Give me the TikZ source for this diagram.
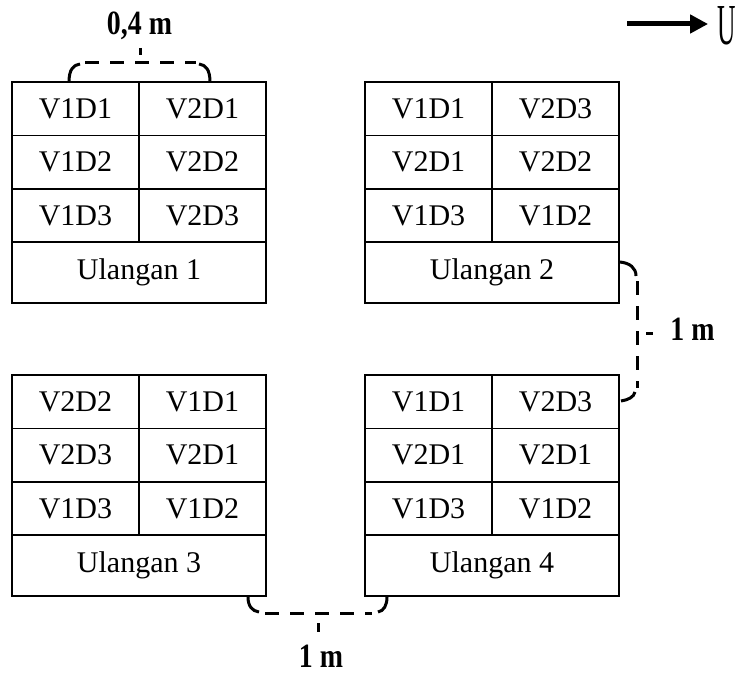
\documentclass[tikz,border=0pt]{standalone}
\usepackage{fontspec}
\setmainfont{Liberation Serif}
\usetikzlibrary{positioning,arrows.meta}

\begin{document}
\begin{tikzpicture}[x=1pt, y=-1pt,
  cell/.style={draw, line width=1.6pt, outer sep=0pt, inner sep=0pt,
               minimum width=127pt, minimum height=53.4pt,
               font=\fontsize{30}{36}\selectfont},
  ulang/.style={cell, minimum width=254pt, minimum height=60.5pt},
  lbl/.style={anchor=base, inner sep=0pt, font=\fontsize{34}{40}\selectfont\bfseries},
  curl/.style={line width=3pt},
  dsh/.style={line width=3pt, dash pattern=on 14pt off 11pt},
  arr/.style={-{Triangle[length=18pt, width=18pt]}, line width=5pt}]
\useasboundingbox (0,0) rectangle (741,674);

% Ulangan 1
\node[cell, anchor=north west] (a11) at (12,82) {V1D1};
\node[cell, right=0pt of a11] (a12) {V2D1};
\node[cell, below=0pt of a11] (a21) {V1D2};
\node[cell, right=0pt of a21] (a22) {V2D2};
\node[cell, below=0pt of a21] (a31) {V1D3};
\node[cell, right=0pt of a31] (a32) {V2D3};
\node[ulang, below=0pt of a31.south east] (u1) {Ulangan 1};

% Ulangan 2
\node[cell, anchor=north west] (b11) at (365,82) {V1D1};
\node[cell, right=0pt of b11] (b12) {V2D3};
\node[cell, below=0pt of b11] (b21) {V2D1};
\node[cell, right=0pt of b21] (b22) {V2D2};
\node[cell, below=0pt of b21] (b31) {V1D3};
\node[cell, right=0pt of b31] (b32) {V1D2};
\node[ulang, below=0pt of b31.south east] (u2) {Ulangan 2};

% Ulangan 3
\node[cell, anchor=north west] (c11) at (12,375) {V2D2};
\node[cell, right=0pt of c11] (c12) {V1D1};
\node[cell, below=0pt of c11] (c21) {V2D3};
\node[cell, right=0pt of c21] (c22) {V2D1};
\node[cell, below=0pt of c21] (c31) {V1D3};
\node[cell, right=0pt of c31] (c32) {V1D2};
\node[ulang, below=0pt of c31.south east] (u3) {Ulangan 3};

% Ulangan 4
\node[cell, anchor=north west] (d11) at (365,375) {V1D1};
\node[cell, right=0pt of d11] (d12) {V2D3};
\node[cell, below=0pt of d11] (d21) {V2D1};
\node[cell, right=0pt of d21] (d22) {V2D1};
\node[cell, below=0pt of d21] (d31) {V1D3};
\node[cell, right=0pt of d31] (d32) {V1D2};
\node[ulang, below=0pt of d31.south east] (u4) {Ulangan 4};

% jarak 0,4 m
\node[lbl] (jarak1) at (139.5,35) {\scalebox{0.82}[1]{0,4 m}};
\coordinate (t1) at (69,82);   \coordinate (t2) at (80,64);
\coordinate (t3) at (199,64);  \coordinate (t4) at (210,82);
\draw[curl] (t1) .. controls (69,70) and (73,65) .. (t2);
\draw[dsh] (85,63) -- (196,63);
\draw[curl] (t3) .. controls (206,65) and (210,70) .. (t4);
\draw[curl] (140,48) -- (140,55);

% jarak 1 m (kanan)
\node[lbl] (jarak2) at (692.5,340) {\scalebox{0.82}[1]{1 m}};
\coordinate (r1) at (620,262); \coordinate (r2) at (636,276);
\coordinate (r3) at (635,392); \coordinate (r4) at (621,401);
\draw[curl] (r1) .. controls (630,263) and (636,268) .. (r2);
\draw[dsh] (637,281) -- (637,388);
\draw[curl] (r3) .. controls (634,397) and (628,400) .. (r4);
\draw[curl] (646,333) -- (653,333);

% jarak 1 m (bawah)
\node[lbl] (jarak3) at (321,667) {\scalebox{0.82}[1]{1 m}};
\coordinate (s1) at (248,597); \coordinate (s2) at (259,612);
\coordinate (s3) at (378,612); \coordinate (s4) at (387,597);
\draw[curl] (s1) .. controls (248,606) and (252,611) .. (s2);
\draw[dsh] (265,613) -- (372,613);
\draw[curl] (s3) .. controls (384,611) and (387,605) .. (s4);
\draw[curl] (318,623) -- (318,632);

% arah utara
\node[anchor=base, inner sep=0pt, inner xsep=9pt, font=\fontsize{58}{60}\selectfont]
  (utara) at (726.5,45) {\scalebox{0.44}[1]{U}};
\coordinate (ekor) at (627,24);
\draw[arr] (ekor) -- (ekor -| utara.west);
\end{tikzpicture}
\end{document}
